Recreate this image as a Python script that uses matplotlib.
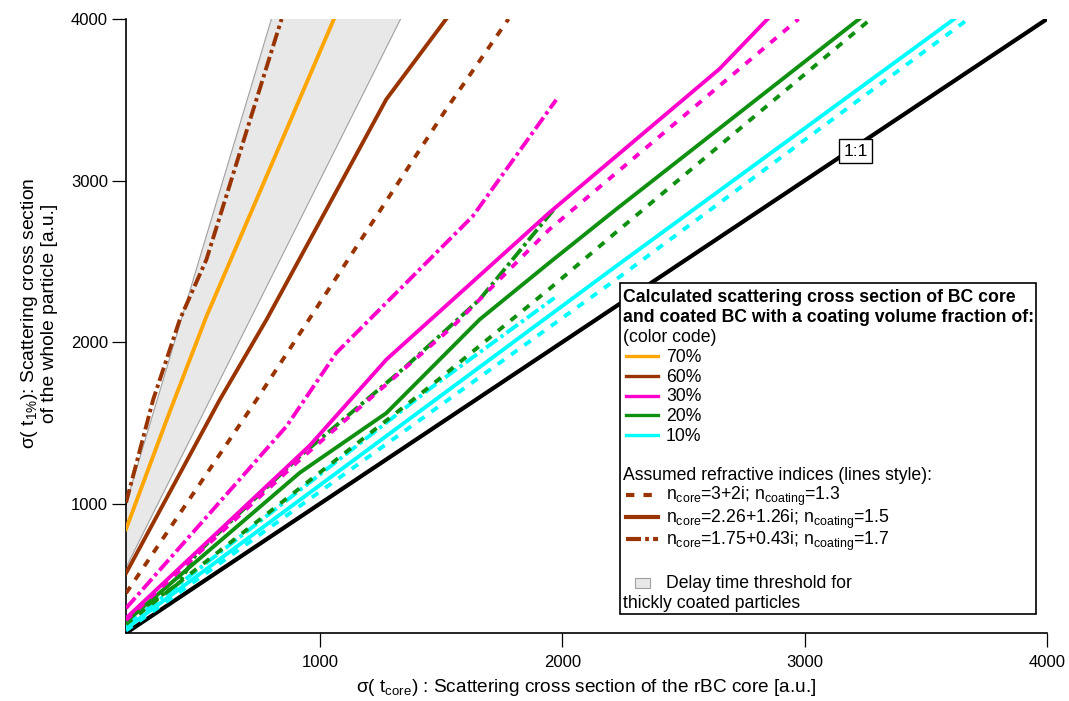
import matplotlib.pyplot as plt
from matplotlib.lines import Line2D
from matplotlib.patches import Rectangle

plt.rcParams['font.family'] = ['Liberation Sans', 'DejaVu Sans']
plt.rcParams['mathtext.fontset'] = 'custom'
plt.rcParams['mathtext.rm'] = 'Liberation Sans'
plt.rcParams['mathtext.it'] = 'Liberation Sans:italic'
plt.rcParams['mathtext.bf'] = 'Liberation Sans:bold'

# 1:1 reference
x_ref = [200, 4000]
y_ref = [200, 4000]

# grey band (delay time threshold for thickly coated particles)
band_x = [200, 800, 1333, 200]
band_y = [1000, 4000, 4000, 605]

# 70 % coating, n_core = 2.26+1.26i
x70_solid = [200, 368, 532, 1058]
y70_solid = [843, 1520, 2160, 4000]

# 60 % coating
x60_dot = [200, 739, 1521, 1778]
y60_dot = [446, 1644, 3441, 4000]
x60_solid = [200, 587, 780, 1274, 1521]
y60_solid = [570, 1644, 2140, 3503, 4000]
x60_dashdot = [200, 312, 422, 532, 842]
y60_dashdot = [1006, 1644, 2140, 2512, 4000]

# 30 % coating
x30_dot = [200, 917, 1549, 1947, 2975]
y30_dot = [280, 1272, 2098, 2698, 4000]
x30_solid = [200, 958, 1274, 1947, 2648, 2847]
y30_solid = [291, 1360, 1892, 2802, 3690, 4000]
x30_dashdot = [200, 862, 1068, 1631, 1975]
y30_dashdot = [353, 1479, 1934, 2780, 3500]

# 20 % coating
x20_dot = [200, 1466, 1947, 2222, 3273]
y20_dot = [255, 1740, 2330, 2680, 4000]
x20_solid = [200, 917, 1274, 1659, 1947, 2222, 3225]
y20_solid = [270, 1192, 1561, 2140, 2492, 2822, 4000]
x20_dashdot = [200, 420, 490, 917, 1356, 1659, 1970]
y20_dashdot = [280, 510, 690, 1293, 1851, 2264, 2830]

# 10 % coating
x10_dot = [200, 2222, 3675]
y10_dot = [215, 2388, 4000]
x10_solid = [200, 2222, 3617]
y10_solid = [228, 2470, 4000]
x10_dashdot = [200, 1466, 1968]
y10_dashdot = [245, 1726, 2274]

fractions = ['70%', '60%', '30%', '20%', '10%']
colors = ['#ffa500', '#993300', '#ff00cc', '#109010', '#00ffff']
index_labels = ['n$_{\\mathrm{core}}$=3+2i; n$_{\\mathrm{coating}}$=1.3',
                'n$_{\\mathrm{core}}$=2.26+1.26i; n$_{\\mathrm{coating}}$=1.5',
                'n$_{\\mathrm{core}}$=1.75+0.43i; n$_{\\mathrm{coating}}$=1.7']

DOT = (0, (2.0, 2.2))
DASHDOT = (0, (3.6, 1.0, 0.9, 1.0))
LW = 2.8
LEG_FS = 12.7

W, H = 1069, 701
fig = plt.figure(figsize=(W / 100, H / 100), dpi=100)
ax = fig.add_axes([126 / W, 1 - 633 / H, (1047 - 126) / W, (633 - 19) / H])

# band
ax.fill(band_x, band_y, facecolor='#e8e8e8', edgecolor='none', zorder=1)
ax.plot(band_x[:2], band_y[:2], color='#a0a0a0', lw=0.8, zorder=1)
ax.plot([band_x[3], band_x[2]], [band_y[3], band_y[2]], color='#a0a0a0', lw=0.8, zorder=1)

ax.plot(x_ref, y_ref, color='black', lw=3, zorder=2)

series = [
    (x10_dot, y10_dot, colors[4], DOT), (x10_solid, y10_solid, colors[4], '-'),
    (x10_dashdot, y10_dashdot, colors[4], DASHDOT),
    (x20_dot, y20_dot, colors[3], DOT), (x20_solid, y20_solid, colors[3], '-'),
    (x20_dashdot, y20_dashdot, colors[3], DASHDOT),
    (x30_dot, y30_dot, colors[2], DOT), (x30_solid, y30_solid, colors[2], '-'),
    (x30_dashdot, y30_dashdot, colors[2], DASHDOT),
    (x60_dot, y60_dot, colors[1], DOT), (x60_solid, y60_solid, colors[1], '-'),
    (x60_dashdot, y60_dashdot, colors[1], DASHDOT),
    (x70_solid, y70_solid, colors[0], '-'),
]
for xs, ys, c, ls in series:
    ax.plot(xs, ys, color=c, ls=ls, lw=LW, zorder=3)

ax.text(3211, 3183, '1:1', fontsize=12.5, ha='center', va='center', zorder=5,
        bbox=dict(boxstyle='square,pad=0.25', fc='white', ec='black', lw=1))

ax.set_xlim(200, 4000)
ax.set_ylim(200, 4000)
ax.set_xticks([1000, 2000, 3000, 4000])
ax.set_yticks([1000, 2000, 3000, 4000])
ax.spines['top'].set_visible(False)
ax.spines['right'].set_visible(False)
for s in ['left', 'bottom']:
    ax.spines[s].set_linewidth(1.2)
ax.tick_params(axis='both', direction='out', length=10, width=0.9, labelsize=12)
ax.tick_params(axis='x', pad=6)
ax.tick_params(axis='y', pad=3)

ax.set_xlabel('σ( t$_{\\mathrm{core}}$) : Scattering cross section of the rBC core [a.u.]', fontsize=13.7)
ax.xaxis.set_label_coords(0.5, -0.072)
ax.set_ylabel('σ( t$_{1\\%}$): Scattering cross section\nof the whole particle [a.u.]', fontsize=13.9,
              linespacing=1.05)
ax.yaxis.set_label_coords(-0.074, 0.52)


# legend drawn by hand in pixel positions
def fp(x, y):
    return x / W, 1 - y / H


fig.add_artist(Rectangle(fp(620, 614), 416 / W, 331 / H, transform=fig.transFigure,
                         fc='white', ec='black', lw=1.2, zorder=10))


def ltext(x, y, s, **kw):
    fig.text(*fp(x, y + 5.8), s, fontsize=LEG_FS, va='baseline', ha='left', zorder=11, **kw)


def lline(y, color, ls='-', lw=2.4):
    fig.add_artist(Line2D([626 / W, 658 / W], [1 - y / H, 1 - y / H], transform=fig.transFigure,
                          color=color, ls=ls, lw=lw, zorder=11))


ltext(623, 296, 'Calculated scattering cross section of BC core', fontweight='bold')
ltext(623, 316, 'and coated BC with a coating volume fraction of:', fontweight='bold')
ltext(623, 336, '(color code)')
for i, (lab, c) in enumerate(zip(fractions, colors)):
    yy = 356 + i * 19.8
    lline(yy, c)
    ltext(666, yy, lab)

ltext(623, 474, 'Assumed refractive indices (lines style):')
for yy, ls, lab in zip([494.5, 517, 539], [DOT, '-', DASHDOT], index_labels):
    lline(yy, colors[1], ls=ls, lw=3)
    ltext(666, yy, lab)

fig.add_artist(Rectangle(fp(635, 588), 15 / W, 10 / H, transform=fig.transFigure,
                         fc='#e8e8e8', ec='#a0a0a0', lw=0.8, zorder=11))
ltext(666, 582, 'Delay time threshold for')
ltext(623, 602, 'thickly coated particles')

fig.savefig('out.png', dpi=100)
